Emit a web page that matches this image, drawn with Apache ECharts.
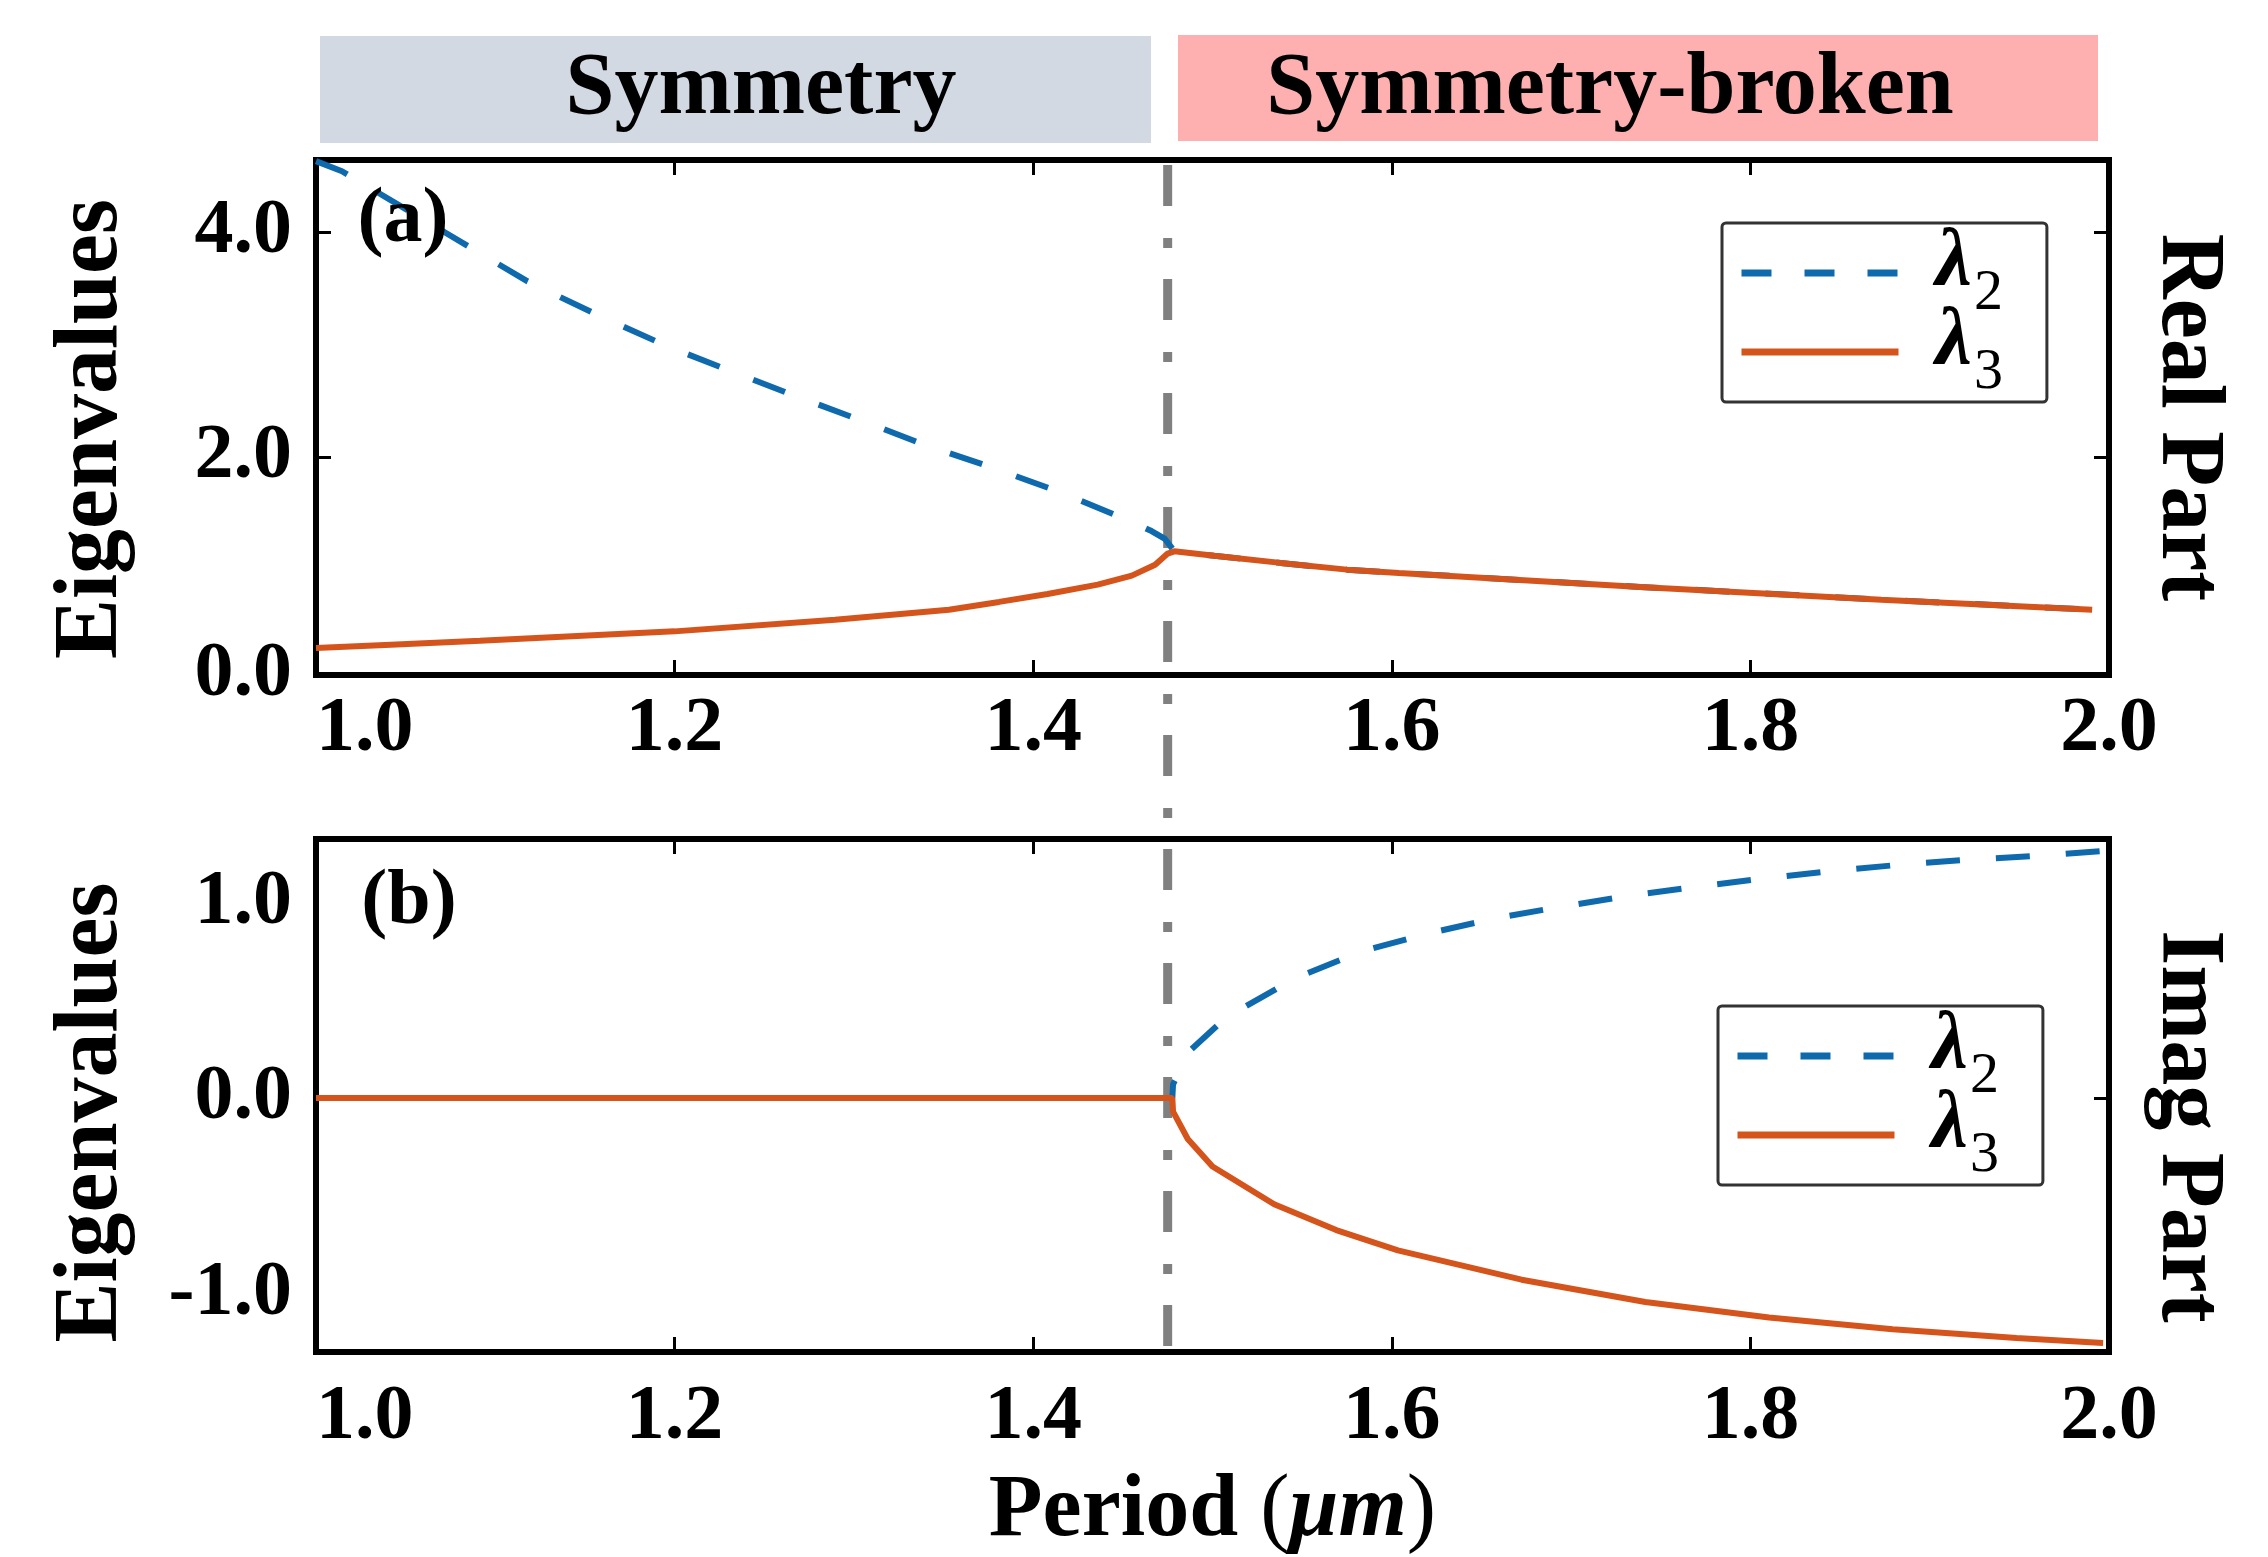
<!DOCTYPE html>
<html>
<head>
<meta charset="utf-8">
<title>Eigenvalues vs period</title>
<script src="https://cdn.jsdelivr.net/npm/echarts@6/dist/echarts.min.js"></script>
<style>
  html, body { margin: 0; padding: 0; background: #fff; }
  #chart { width: 2268px; height: 1557px; }
</style>
</head>
<body>
<div id="chart"></div>
<script>
  // 数据: [period (um), eigenvalue]
  // real part, before the exceptional point
  const realL2 = [[1.000, 4.63], [1.0145, 4.54], [1.118, 3.56], [1.156, 3.27], [1.195, 2.99],
    [1.230, 2.77], [1.266, 2.55], [1.303, 2.33], [1.339, 2.11], [1.378, 1.90], [1.416, 1.68],
    [1.454, 1.43], [1.466, 1.34], [1.4735, 1.27], [1.4787, 1.16]];
  const realL3 = [[1.000, 0.30], [1.0417, 0.33], [1.0914, 0.365], [1.200, 0.448], [1.2895, 0.552],
    [1.353, 0.641], [1.381, 0.71], [1.408, 0.78], [1.436, 0.864], [1.455, 0.944], [1.468, 1.04],
    [1.475, 1.14], [1.4787, 1.16]];
  // real part after the exceptional point (both eigenvalues coincide)
  const realMerged = [[1.4787, 1.16], [1.501, 1.12], [1.538, 1.057], [1.575, 0.997], [1.604, 0.968],
    [1.7385, 0.843], [1.873, 0.73], [1.9906, 0.641]];
  // imaginary part
  const imagL2 = [[1.000, 0], [1.4776, 0], [1.478, 0.07], [1.4879, 0.246], [1.5076, 0.412],
    [1.5465, 0.614], [1.5844, 0.754], [1.6224, 0.846], [1.6586, 0.921], [1.6948, 0.979],
    [1.7328, 1.035], [1.769, 1.079], [1.807, 1.123], [1.845, 1.161], [1.883, 1.193],
    [1.921, 1.219], [1.957, 1.237], [1.995, 1.263]];
  const imagL3 = [[1.000, 0], [1.4776, 0], [1.478, -0.07], [1.4862, -0.21], [1.500, -0.351],
    [1.5344, -0.544], [1.569, -0.676], [1.6034, -0.78], [1.6724, -0.93], [1.7414, -1.044],
    [1.8104, -1.123], [1.8793, -1.184], [1.9484, -1.228], [1.9967, -1.254]];

  const epPeriod = 1.475;        // exceptional point
  const periodRange = [1.0, 2.0];
  const realRange = [0.06, 4.64];
  const imagRange = [-1.30, 1.325];
  const realTicks = [2, 4];
  const realLabels = [0.06, 2, 4];
  const imagTicks = [0];
  const imagLabels = [-1, 0, 1];

  const serif = 'Liberation Serif';
  const blue = '#0f6aad';
  const orange = '#d4541c';

  const chart = echarts.init(document.getElementById('chart'));

  const tick = { inside: true, length: 15, lineStyle: { color: '#000', width: 3 } };
  const numLabel = { fontFamily: serif, fontSize: 78, fontWeight: 'bold', color: '#000' };

  function xAxis(gridIndex, position, withLabels, extra, margin) {
    return Object.assign({
      gridIndex: gridIndex,
      type: 'value',
      position: position,
      min: periodRange[0],
      max: periodRange[1],
      interval: 0.2,
      axisLine: { show: false, onZero: false },
      axisTick: tick,
      splitLine: { show: false },
      axisLabel: Object.assign({
        show: withLabels,
        margin: margin || 16,
        alignMinLabel: 'left',
        formatter: v => v.toFixed(1)
      }, numLabel)
    }, extra || {});
  }

  function yAxis(gridIndex, position, range, ticks, labels, extra) {
    return Object.assign({
      gridIndex: gridIndex,
      type: 'value',
      position: position,
      min: range[0],
      max: range[1],
      axisLine: { show: false, onZero: false },
      splitLine: { show: false },
      axisTick: ticks ? Object.assign({ customValues: ticks }, tick) : { show: false },
      axisLabel: labels ? Object.assign({
        customValues: labels,
        margin: 24,
        formatter: v => (Math.abs(v) < 0.5 ? '0.0' : v.toFixed(1))
      }, numLabel) : { show: false }
    }, extra || {});
  }

  const nameStyle = { fontFamily: serif, fontSize: 90, fontWeight: 'bold', color: '#000' };

  const legendBase = {
    orient: 'vertical',
    itemWidth: 157,
    itemHeight: 20,
    itemGap: -21,
    padding: [0, 44, 0, 16],
    borderColor: '#333',
    borderWidth: 3,
    borderRadius: 4,
    backgroundColor: '#fff',
    selectedMode: false,
    lineStyle: { width: 7 },
    itemStyle: { color: 'rgba(0,0,0,0)', borderWidth: 0, opacity: 0 },
    data: [{ name: 'λ2', lineStyle: { type: [30, 33] } }, { name: 'λ3' }],
    formatter: name => '{l|' + name[0] + '}{s|' + name.slice(1) + '}',
    textStyle: {
      rich: {
        l: { fontFamily: serif, fontSize: 82, fontWeight: 'bold', fontStyle: 'italic', lineHeight: 100, verticalAlign: 'top', padding: [0, 2, 0, 32], color: '#000' },
        s: { fontFamily: serif, fontSize: 58, lineHeight: 100, verticalAlign: 'bottom', color: '#000' }
      }
    }
  };

  const option = {
    animation: false,
    backgroundColor: '#fff',
    grid: [
      { left: 316, top: 160, width: 1793, height: 515, show: true, borderColor: '#000', borderWidth: 6, backgroundColor: 'transparent' },
      { left: 316, top: 839, width: 1793, height: 514, show: true, borderColor: '#000', borderWidth: 6, backgroundColor: 'transparent' },
      { left: 316, top: 165, width: 1793, height: 1181, show: false }
    ],
    xAxis: [
      xAxis(0, 'bottom', true),
      xAxis(0, 'top', false),
      xAxis(1, 'bottom', true, {
        name: '{b|Period }{p|(}{i|μm}{p|)}',
        nameLocation: 'middle',
        nameGap: 116,
        nameTextStyle: {
          rich: {
            b: { fontFamily: serif, fontSize: 88, fontWeight: 'bold', color: '#000' },
            p: { fontFamily: serif, fontSize: 88, color: '#000' },
            i: { fontFamily: serif, fontSize: 88, fontStyle: 'italic', fontWeight: 'bold', color: '#000' }
          }
        }
      }, 27),
      xAxis(1, 'top', false),
      { gridIndex: 2, type: 'value', show: false, min: periodRange[0], max: periodRange[1] }
    ],
    yAxis: [
      yAxis(0, 'left', realRange, realTicks, realLabels, {
        name: 'Eigenvalues', nameLocation: 'middle', nameRotate: 90, nameGap: 178,
        nameTextStyle: Object.assign({ padding: [0, 23, 0, 0] }, nameStyle)
      }),
      yAxis(0, 'right', realRange, realTicks, null, {
        name: 'Real Part', nameLocation: 'middle', nameRotate: -90, nameGap: 32,
        nameTextStyle: nameStyle
      }),
      yAxis(1, 'left', imagRange, null, imagLabels, {
        name: 'Eigenvalues', nameLocation: 'middle', nameRotate: 90, nameGap: 178,
        nameTextStyle: Object.assign({ padding: [0, 34, 0, 0] }, nameStyle)
      }),
      yAxis(1, 'right', imagRange, imagTicks, null, {
        name: 'Imag Part', nameLocation: 'middle', nameRotate: -90, nameGap: 32,
        nameTextStyle: Object.assign({ padding: [0, 0, 0, 62] }, nameStyle)
      }),
      { gridIndex: 2, type: 'value', show: false, min: 0, max: 1 }
    ],
    legend: [
      Object.assign({ left: 1722, top: 223 }, legendBase),
      Object.assign({ left: 1718, top: 1006 }, legendBase)
    ],
    graphic: [
      { type: 'rect', shape: { x: 320, y: 36, width: 831, height: 107 }, style: { fill: '#d3d9e3' } },
      { type: 'rect', shape: { x: 1178, y: 35, width: 920, height: 106 }, style: { fill: '#feb0b0' } },
      { type: 'text', x: 761, y: 90, style: { text: 'Symmetry', font: 'bold 88px "Liberation Serif"', fill: '#000', align: 'center', verticalAlign: 'middle' } },
      { type: 'text', x: 1610, y: 90, style: { text: 'Symmetry-broken', font: 'bold 88px "Liberation Serif"', fill: '#000', align: 'center', verticalAlign: 'middle' } },
      { type: 'text', x: 403, y: 221, z: 10, style: { text: '(a)', font: 'bold 78px "Liberation Serif"', fill: '#000', align: 'center', verticalAlign: 'middle' } },
      { type: 'text', x: 409, y: 903, z: 10, style: { text: '(b)', font: 'bold 78px "Liberation Serif"', fill: '#000', align: 'center', verticalAlign: 'middle' } }
    ],
    series: [
      {
        name: 'λ2', type: 'line', xAxisIndex: 0, yAxisIndex: 0, z: 2, symbol: 'none',
        data: realL2.concat(realMerged.slice(1)),
        lineStyle: { color: blue, width: 6, type: [34, 36] }, itemStyle: { color: blue }
      },
      {
        name: 'λ3', type: 'line', xAxisIndex: 0, yAxisIndex: 0, z: 3, symbol: 'none',
        data: realL3.concat(realMerged.slice(1)),
        lineStyle: { color: orange, width: 6 }, itemStyle: { color: orange }
      },
      {
        name: 'λ2', type: 'line', xAxisIndex: 2, yAxisIndex: 2, z: 2, symbol: 'none',
        data: imagL2,
        lineStyle: { color: blue, width: 6, type: [34, 36] }, itemStyle: { color: blue }
      },
      {
        name: 'λ3', type: 'line', xAxisIndex: 2, yAxisIndex: 2, z: 3, symbol: 'none',
        data: imagL3,
        lineStyle: { color: orange, width: 6 }, itemStyle: { color: orange }
      },
      {
        type: 'line', xAxisIndex: 4, yAxisIndex: 4, z: 1, silent: true,
        data: [[epPeriod, 1], [epPeriod, 0]], symbol: 'none',
        lineStyle: { color: '#808080', width: 9, type: [41, 32, 10, 31], cap: 'butt' }
      }
    ]
  };

  chart.setOption(option);
</script>
</body>
</html>
